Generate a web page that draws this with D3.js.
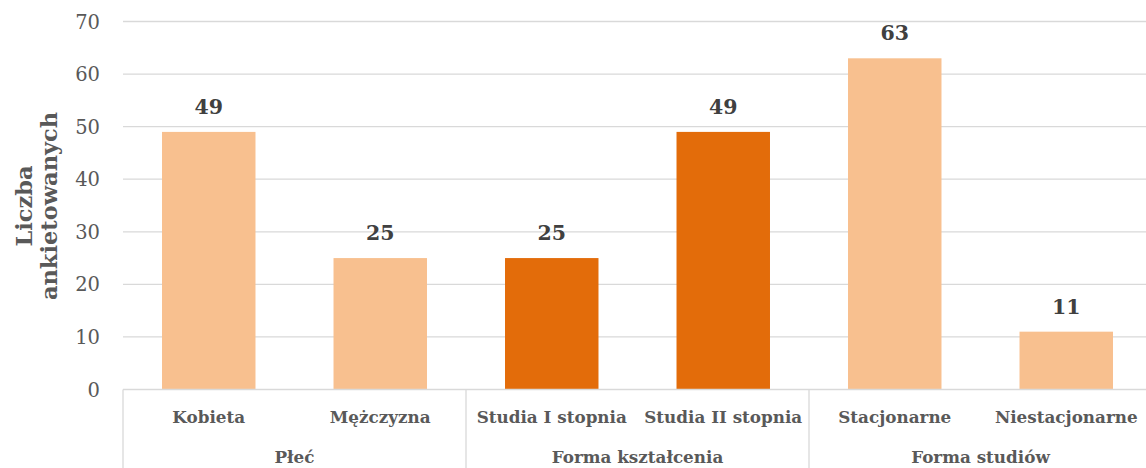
<!DOCTYPE html>
<html><head><meta charset="utf-8">
<script src="https://cdn.jsdelivr.net/npm/d3@7"></script>
<style>body{margin:0;background:#fff}svg{display:block}</style>
</head><body>
<svg id="c" width="1146" height="468"></svg>
<script>
const categories = ["Kobieta","Mężczyzna","Studia I stopnia","Studia II stopnia","Stacjonarne","Niestacjonarne"];
const groups = ["Płeć","Forma kształcenia","Forma studiów"];
const groupOf = [0,0,1,1,2,2];
const values = [49,25,25,49,63,11];
const yTicks = [0,10,20,30,40,50,60,70];
const yTitle = ["Liczba","ankietowanych"];

(function(){
const svg = d3.select("#c");
const font = "'DejaVu Serif', serif";
const pLeft = 123, pRight = 1152, pTop = 21.5, pBottom = 389.5;
const x = d3.scaleBand().domain(categories).range([pLeft,pRight]).paddingInner(0.455).paddingOuter(0.2275);
const y = d3.scaleLinear().domain([0,70]).range([pBottom,pTop]);
const colors = ["#F8C08F","#F8C08F","#E36C0A","#E36C0A","#F8C08F","#F8C08F"];
const step = x.step();
const catStart = c => x(c) - step*x.paddingInner()/2;

svg.append("g").selectAll("line").data(yTicks.filter(d=>d>0)).join("line")
  .attr("x1",pLeft).attr("x2",pRight).attr("y1",d=>y(d)).attr("y2",d=>y(d))
  .attr("stroke","#d9d9d9").attr("stroke-width",1.3);

svg.append("g").selectAll("text").data(yTicks).join("text")
  .attr("x",100).attr("y",d=>y(d)).attr("dy","0.36em").attr("text-anchor","end")
  .attr("font-family",font).attr("font-size",19.5).attr("fill","#595959").text(d=>d);

svg.append("g").selectAll("rect").data(values).join("rect")
  .attr("x",(d,i)=>x(categories[i])).attr("width",x.bandwidth())
  .attr("y",d=>y(d)).attr("height",d=>y(0)-y(d)).attr("fill",(d,i)=>colors[i]);

svg.append("g").selectAll("text").data(values).join("text")
  .attr("x",(d,i)=>x(categories[i])+x.bandwidth()/2).attr("y",d=>y(d)-18)
  .attr("text-anchor","middle").attr("font-family",font).attr("font-weight","bold")
  .attr("font-size",20.5).attr("fill","#404040").text(d=>d);

svg.append("line").attr("x1",pLeft).attr("x2",pRight).attr("y1",pBottom).attr("y2",pBottom)
  .attr("stroke","#d9d9d9").attr("stroke-width",1.3);
const seps = [catStart(categories[0]),catStart(categories[2]),catStart(categories[4]),pRight];
svg.append("g").selectAll("line").data(seps).join("line")
  .attr("x1",d=>d).attr("x2",d=>d).attr("y1",pBottom).attr("y2",468)
  .attr("stroke","#d9d9d9").attr("stroke-width",1.3);

svg.append("g").selectAll("text").data(categories).join("text")
  .attr("x",d=>x(d)+x.bandwidth()/2).attr("y",423)
  .attr("text-anchor","middle").attr("font-family",font).attr("font-weight","bold")
  .attr("font-size",16.8).attr("fill","#595959").text(d=>d);

svg.append("g").selectAll("text").data(groups).join("text")
  .attr("x",(g,gi)=>{const idx=categories.filter((c,i)=>groupOf[i]===gi);return (x(idx[0])+x(idx[idx.length-1])+x.bandwidth())/2;})
  .attr("y",463).attr("text-anchor","middle").attr("font-family",font).attr("font-weight","bold")
  .attr("font-size",16.8).attr("fill","#595959").text(d=>d);

const yt = svg.append("text").attr("transform","translate(32,206) rotate(-90)")
  .attr("text-anchor","middle").attr("font-family",font).attr("font-weight","bold")
  .attr("font-size",22.5).attr("fill","#595959");
yt.append("tspan").attr("x",0).attr("dy",0).text(yTitle[0]);
yt.append("tspan").attr("x",0).attr("dy",25).text(yTitle[1]);
})();
</script>
</body></html>
